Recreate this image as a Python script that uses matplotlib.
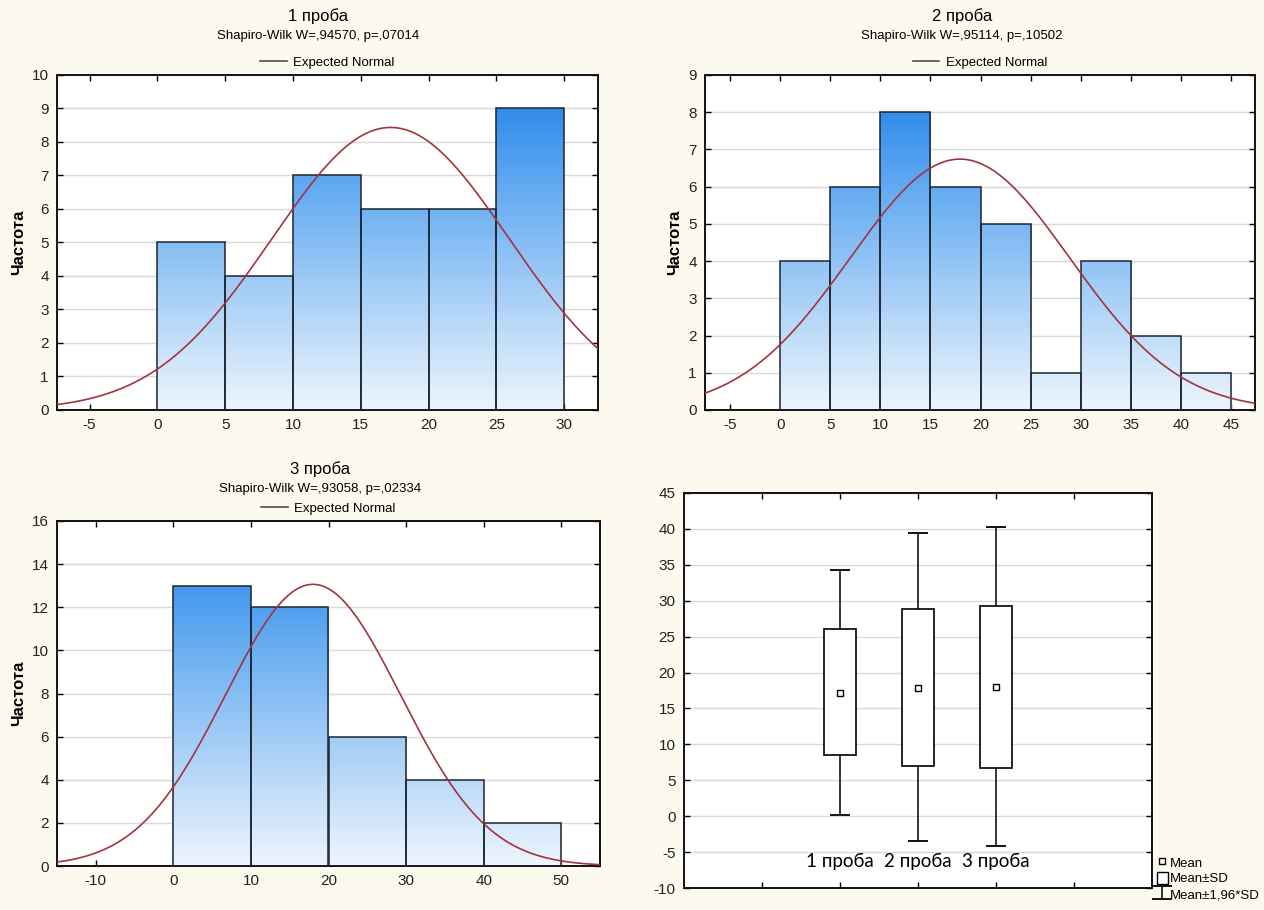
import numpy as np
import matplotlib
matplotlib.use("Agg")
import matplotlib.pyplot as plt
from matplotlib.colors import LinearSegmentedColormap
from matplotlib.lines import Line2D
from matplotlib.patches import Patch

plt.rcParams['font.family'] = ['Liberation Sans', 'DejaVu Sans']
plt.rcParams['axes.unicode_minus'] = False

# --- данные ---
edges1 = [0, 5, 10, 15, 20, 25, 30]
counts1 = [5, 4, 7, 6, 6, 9]
edges2 = [0, 5, 10, 15, 20, 25, 30, 35, 40, 45]
counts2 = [4, 6, 8, 6, 5, 1, 4, 2, 1]
edges3 = [0, 10, 20, 30, 40, 50]
counts3 = [13, 12, 6, 4, 2]

titles = ['1 проба', '2 проба', '3 проба']
sw_text = ['Shapiro-Wilk W=,94570, p=,07014',
           'Shapiro-Wilk W=,95114, p=,10502',
           'Shapiro-Wilk W=,93058, p=,02334']
means = [17.2, 17.95, 18.0]
sds = [8.75, 10.95, 11.3]

# box plot (Mean, Mean±SD, Mean±1,96*SD)
box_mean = [17.2, 17.9, 18.0]
box_lo = [8.5, 7.0, 6.7]
box_hi = [26.0, 28.9, 29.3]
whisk_lo = [0.1, -3.5, -4.1]
whisk_hi = [34.3, 39.4, 40.3]

bg = '#fcf9ef'
curve_col = '#a2343f'
blue_cmap = LinearSegmentedColormap.from_list(
    'stat_blue', ['#edf5fd', '#a9d0f7', '#62aaf1', '#1c7ee8'])

fig = plt.figure(figsize=(12.64, 9.10), dpi=100, facecolor=bg)
W, H = 1264, 910


def add_ax(l, t, r, b):
    return fig.add_axes([l / W, 1 - b / H, (r - l) / W, (b - t) / H])


def style(ax, xticks, yticks):
    ax.set_facecolor('white')
    ax.set_xticks(xticks)
    ax.set_yticks(yticks)
    ax.tick_params(direction='in', top=True, right=True, length=4,
                   width=1, labelsize=11, labelcolor='#222222', pad=6)
    ax.grid(axis='y', color='#d9d9d9', lw=1, zorder=0)
    ax.set_axisbelow(True)
    for s in ax.spines.values():
        s.set_linewidth(1.4)
        s.set_color('#111111')


def hist_panel(ax, edges, counts, mean, sd, xlim, ylim, xticks, yticks):
    edges = np.array(edges, dtype=float)
    grad = np.linspace(0, 1, 256).reshape(-1, 1)
    bars = ax.bar(edges[:-1], counts, width=np.diff(edges), align='edge',
                  facecolor='none', edgecolor='#1c2530', lw=1.1, zorder=3)
    for b in bars:
        im = ax.imshow(grad, cmap=blue_cmap, origin='lower', aspect='auto',
                       extent=(b.get_x(), b.get_x() + b.get_width(), 0, ylim[1]),
                       vmin=0, vmax=1, zorder=2)
        im.set_clip_path(b)
    # ожидаемая нормальная кривая
    n = sum(counts)
    bw = edges[1] - edges[0]
    xs = np.linspace(xlim[0], xlim[1], 400)
    ys = n * bw / (sd * np.sqrt(2 * np.pi)) * np.exp(-(xs - mean) ** 2 / (2 * sd ** 2))
    ax.plot(xs, ys, color=curve_col, lw=1.2, zorder=4, label='Expected Normal')
    ax.set_xlim(*xlim)
    ax.set_ylim(*ylim)
    style(ax, xticks, yticks)
    ax.set_ylabel('Частота', fontsize=12, fontweight='bold', labelpad=4)
    leg = ax.legend(loc='lower center', bbox_to_anchor=(0.5, 0.995), frameon=False,
                    fontsize=9.5, handlelength=2.0, handletextpad=0.5, borderpad=0.1)
    leg.get_lines()[0].set_color('#5a4a4a')


ax1 = add_ax(57, 75, 598, 410)
hist_panel(ax1, edges1, counts1, means[0], sds[0], (-7.4, 32.5), (0, 10),
           range(-5, 31, 5), range(0, 11))
ax2 = add_ax(705, 75, 1255, 410)
hist_panel(ax2, edges2, counts2, means[1], sds[1], (-7.5, 47.4), (0, 9),
           range(-5, 46, 5), range(0, 10))
ax3 = add_ax(57, 521, 600, 866)
hist_panel(ax3, edges3, counts3, means[2], sds[2], (-15, 55), (0, 16),
           range(-10, 51, 10), range(0, 17, 2))

for x, y0, i in [(318, 16, 0), (962, 16, 1), (320, 469, 2)]:
    fig.text(x / W, 1 - y0 / H, titles[i], ha='center', va='center', fontsize=12)
    fig.text(x / W, 1 - (y0 + 20) / H, sw_text[i], ha='center', va='center', fontsize=9.5)

# --- box plot ---
ax4 = add_ax(684, 493, 1152, 888)
pos = np.array([2, 3, 4])
box_mean = np.array(box_mean)
err = ax4.errorbar(pos, box_mean,
                   yerr=[box_mean - np.array(whisk_lo), np.array(whisk_hi) - box_mean],
                   fmt='none', ecolor='black', elinewidth=1.1, capsize=7,
                   capthick=1.3, zorder=3)
for p, lo, hi in zip(pos, box_lo, box_hi):
    ax4.bar(p, hi - lo, bottom=lo, width=0.4, facecolor='white',
            edgecolor='black', lw=1.2, zorder=4)
ax4.plot(pos, box_mean, ls='none', marker='s', ms=5, mfc='white', mec='black',
         mew=1, zorder=5)
for p, t in zip(pos, titles):
    ax4.text(p, -6.3, t, ha='center', va='center', fontsize=13.5,
             family=['Lato', 'DejaVu Sans'])
ax4.set_xlim(0, 6)
ax4.set_ylim(-10, 45)
style(ax4, range(1, 6), range(-10, 46, 5))
ax4.set_xticklabels([])

handles = [Line2D([], [], ls='none', marker='s', ms=4, mfc='white', mec='black'),
           Patch(facecolor='white', edgecolor='black'),
           err]
ax4.legend(handles, ['Mean', 'Mean±SD', 'Mean±1,96*SD'], loc='upper left',
           bbox_to_anchor=(1.008, 0.085), frameon=False, fontsize=9.5,
           handlelength=0.8, handleheight=1.1, handletextpad=0.2,
           labelspacing=0.15, borderaxespad=0.0, borderpad=0.1)

fig.savefig('out.png', dpi=100, facecolor=bg)
